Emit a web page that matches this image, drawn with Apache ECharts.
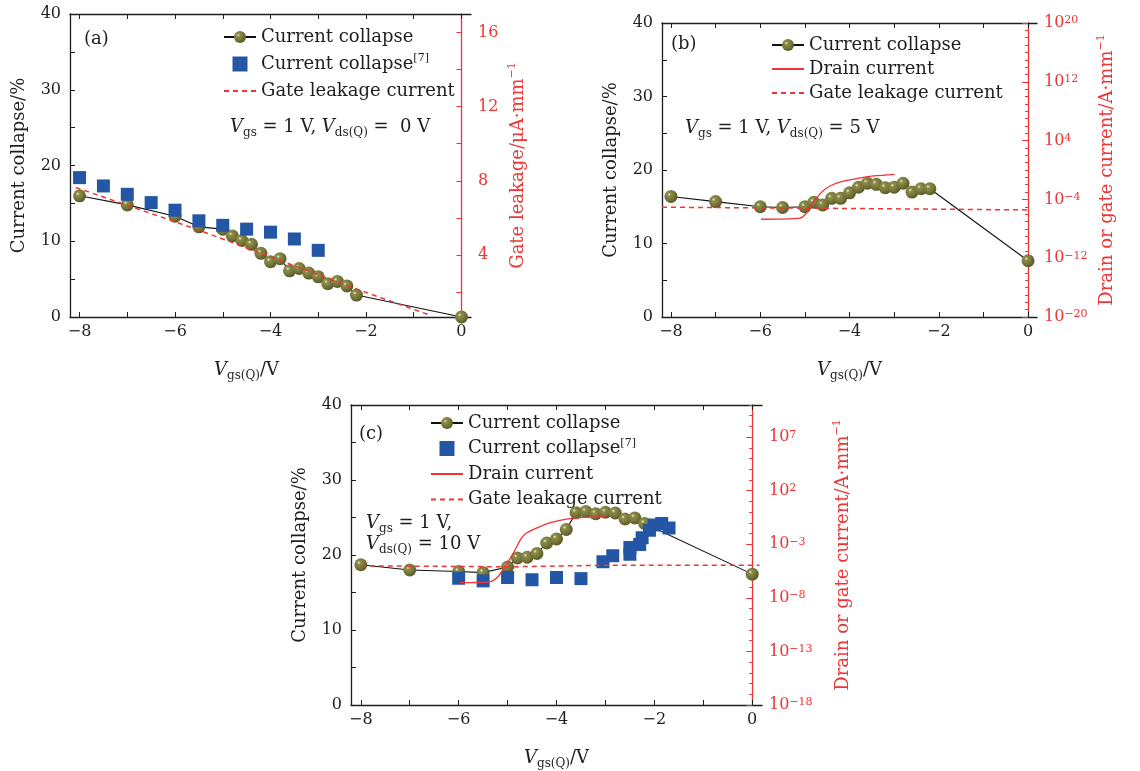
<!DOCTYPE html>
<html>
<head>
<meta charset="utf-8">
<script src="https://cdn.jsdelivr.net/npm/echarts@6/dist/echarts.min.js"></script>
<style>
  html, body { margin: 0; padding: 0; background: #fff; }
  #chart { width: 1140px; height: 771px; }
</style>
</head>
<body>
<div id="chart"></div>
<script>
// ---------- data ----------
// (a) Vds(Q) = 0 V
const aCcX = [-8, -7, -6, -5.5, -5, -4.8, -4.6, -4.4, -4.2, -4, -3.8, -3.6, -3.4, -3.2, -3, -2.8, -2.6, -2.4, -2.2, 0];
const aCcY = [16.0, 14.8, 13.3, 11.9, 11.6, 10.7, 10.1, 9.6, 8.4, 7.3, 7.7, 6.1, 6.4, 5.8, 5.3, 4.4, 4.7, 4.1, 2.9, 0.0];
const aRefX = [-8, -7.5, -7, -6.5, -6, -5.5, -5, -4.5, -4, -3.5, -3];
const aRefY = [18.4, 17.3, 16.2, 15.1, 14.1, 12.7, 12.1, 11.6, 11.2, 10.3, 8.8];
const aGateX = [-8.08, -5.5, -4.0, -2.34, -0.67];
const aGateY = [7.64, 5.34, 3.9, 2.29, 0.76];           // µA/mm, right axis

// (b) Vds(Q) = 5 V
const bCcX = [-8, -7, -6, -5.5, -5, -4.8, -4.6, -4.4, -4.2, -4, -3.8, -3.6, -3.4, -3.2, -3, -2.8, -2.6, -2.4, -2.2, 0];
const bCcY = [16.4, 15.7, 15.0, 14.9, 15.0, 15.6, 15.25, 16.15, 16.15, 16.9, 17.65, 18.2, 18.05, 17.6, 17.65, 18.2, 17.0, 17.45, 17.45, 7.65];
const bDrainX = [-5.98, -5.11, -4.97, -4.83, -4.68, -4.57, -4.39, -4.18, -3.82, -3.46, -2.99];
const bDrainY = [2.0e-7, 2.8e-7, 1.3e-6, 3.0e-5, 4.1e-4, 1.9e-3, 9.1e-3, 2.6e-2, 7.4e-2, 0.155, 0.26];
const bGateX = [-8.2, -4, 0];
const bGateY = [8.7e-6, 5.8e-6, 3.7e-6];

// (c) Vds(Q) = 10 V
const cCcX = [-8, -7, -6, -5.5, -5, -4.8, -4.6, -4.4, -4.2, -4, -3.8, -3.6, -3.4, -3.2, -3, -2.8, -2.6, -2.4, -2.2, 0];
const cCcY = [18.7, 18.0, 17.8, 17.65, 18.4, 19.6, 19.7, 20.2, 21.6, 22.15, 23.4, 25.65, 25.8, 25.5, 25.7, 25.6, 24.8, 24.95, 24.2, 17.45];
const cRefX = [-6, -5.5, -5, -4.5, -4, -3.5, -3.05, -2.85, -2.5, -2.5, -2.3, -2.25, -2.1, -2.0, -1.85, -1.7];
const cRefY = [16.9, 16.55, 17.0, 16.7, 17.0, 16.85, 19.1, 19.9, 20.1, 21.0, 21.4, 22.3, 23.3, 24.0, 24.2, 23.6];
const cDrainX = [-5.98, -5.37, -5.2, -5.07, -4.9, -4.72, -4.63, -4.41, -4.14, -3.8, -3.46, -3.0];
const cDrainY = [2.6e-7, 3.2e-7, 8.9e-7, 7.1e-6, 1.1e-4, 3.5e-3, 1.0e-2, 3.2e-2, 9.8e-2, 0.22, 0.32, 0.38];
const cGateX = [-8, -5, -3, 0.15];
const cGateY = [9.8e-6, 7.9e-6, 1.1e-5, 1.1e-5];

// ticks / labels
const xTicks = [-8, -7, -6, -5, -4, -3, -2, -1, 0];
const xLabels = [-8, -6, -4, -2, 0];
const ccTicks = [0, 5, 10, 15, 20, 25, 30, 35, 40];
const ccLabels = [0, 10, 20, 30, 40];
const aLeakTicks = [2, 4, 6, 8, 10, 12, 14, 16];
const aLeakLabels = [4, 8, 12, 16];
const bCurLabels = [1e-20, 1e-12, 1e-4, 1e4, 1e12, 1e20];
const cCurLabels = [1e-18, 1e-13, 1e-8, 1e-3, 1e2, 1e7];

// ---------- styling helpers ----------
const FONT = 'DejaVu Serif';
const INK = '#1e1e1e';
const RED = '#ee3434';
const BALL = {
  type: 'radial', x: 0.36, y: 0.34, r: 0.72,
  colorStops: [
    { offset: 0, color: '#f2f2dc' },
    { offset: 0.18, color: '#8e8e4a' },
    { offset: 0.6, color: '#74743a' },
    { offset: 1, color: '#545420' }
  ]
};
const BLUE = '#2456a6';

const zip = (xs, ys) => xs.map((x, i) => [x, ys[i]]);
const minus = v => (v < 0 ? '\u2212' + Math.abs(v) : String(v));
function decades(lo, hi) {
  const out = [];
  for (let e = lo; e <= hi; e++) out.push(Math.pow(10, e));
  return out;
}
const powLabel = v => {
  const e = Math.round(Math.log10(v));
  return '10{sup|' + minus(e) + '}';
};

const subRich = {
  i: { fontFamily: FONT, fontSize: 18, fontStyle: 'italic', color: INK },
  sub: { fontFamily: FONT, fontSize: 12, verticalAlign: 'bottom', lineHeight: 14, color: INK }
};

const grids = [
  { left: 70, top: 14, width: 401, height: 303 },
  { left: 662, top: 23, width: 375, height: 294 },
  { left: 351, top: 405, width: 411, height: 311 }
];

function bottomX(gi, namePad) {
  return {
    type: 'value', gridIndex: gi, min: -8.2, max: 0.2, position: 'bottom',
    name: '{i|V}{sub|gs(Q)}/V', nameLocation: 'middle', nameGap: 41,
    nameTextStyle: { fontFamily: FONT, fontSize: 18, color: INK, lineHeight: 24, padding: namePad, rich: subRich },
    axisLine: { onZero: false, lineStyle: { color: INK, width: 1.3 } },
    axisTick: { inside: true, length: 5, customValues: xTicks, lineStyle: { color: INK } },
    axisLabel: { customValues: xLabels, formatter: minus, fontFamily: FONT, fontSize: 16, color: INK, margin: 7 },
    splitLine: { show: false }
  };
}
function topX(gi) {
  return {
    type: 'value', gridIndex: gi, min: -8.2, max: 0.2, position: 'top',
    axisLine: { onZero: false, lineStyle: { color: INK, width: 1.3 } },
    axisTick: { inside: true, length: 5, customValues: xTicks, lineStyle: { color: INK } },
    axisLabel: { show: false },
    splitLine: { show: false }
  };
}
function leftY(gi) {
  return {
    type: 'value', gridIndex: gi, min: 0, max: 40, position: 'left',
    name: 'Current collapse/%', nameLocation: 'middle', nameGap: 42,
    nameTextStyle: { fontFamily: FONT, fontSize: 18, color: INK },
    axisLine: { show: true, onZero: false, lineStyle: { color: INK, width: 1.3 } },
    axisTick: { inside: true, length: 5, customValues: ccTicks, lineStyle: { color: INK } },
    axisLabel: { customValues: ccLabels, fontFamily: FONT, fontSize: 16, color: INK, margin: 9 },
    splitLine: { show: false }
  };
}
const curName = 'Drain or gate current/A\u00b7mm{sup|\u22121}';
const redNameStyle = {
  fontFamily: FONT, fontSize: 18, color: RED, lineHeight: 22,
  rich: { sup: { fontFamily: FONT, fontSize: 11, color: RED, verticalAlign: 'top', lineHeight: 12 } }
};
function logY(gi, min, max, labels, lo, hi, gap) {
  return [{
    type: 'log', logBase: 10, gridIndex: gi, min: min, max: max, position: 'right',
    name: curName, nameLocation: 'middle', nameGap: gap, nameTextStyle: redNameStyle,
    axisLine: { show: true, lineStyle: { color: RED, width: 1.3 } },
    axisTick: { inside: true, length: 6, customValues: labels, lineStyle: { color: RED } },
    axisLabel: {
      customValues: labels, formatter: powLabel, fontFamily: FONT, fontSize: 16, color: RED, margin: 7,
      rich: { sup: { fontFamily: FONT, fontSize: 11, color: RED, verticalAlign: 'top', lineHeight: 10 } }
    },
    splitLine: { show: false }
  }, {
    type: 'log', logBase: 10, gridIndex: gi, min: min, max: max, position: 'right',
    axisLine: { show: false },
    axisTick: { inside: true, length: 3, customValues: decades(lo, hi), lineStyle: { color: RED } },
    axisLabel: { show: false },
    splitLine: { show: false }
  }];
}

function ccSeries(xi, yi, xs, ys) {
  return {
    type: 'line', name: 'Current collapse', xAxisIndex: xi, yAxisIndex: yi,
    data: zip(xs, ys), symbol: 'circle', symbolSize: 13, z: 3,
    lineStyle: { color: '#111', width: 1.1 }, itemStyle: { color: BALL }
  };
}
function refSeries(xi, yi, xs, ys) {
  return {
    type: 'scatter', name: 'Current collapse[7]', xAxisIndex: xi, yAxisIndex: yi,
    data: zip(xs, ys), symbol: 'rect', symbolSize: 13, z: 3.5,
    itemStyle: { color: BLUE, opacity: 1 }
  };
}
function gateSeries(xi, yi, xs, ys) {
  return {
    type: 'line', name: 'Gate leakage current', xAxisIndex: xi, yAxisIndex: yi,
    data: zip(xs, ys), symbol: 'none', z: 4,
    lineStyle: { color: RED, width: 1.5, type: [5, 4] }, itemStyle: { color: RED, opacity: 0 }
  };
}
function drainSeries(xi, yi, xs, ys) {
  return {
    type: 'line', name: 'Drain current', xAxisIndex: xi, yAxisIndex: yi,
    data: zip(xs, ys), symbol: 'none', z: 4, smooth: 0.3,
    lineStyle: { color: RED, width: 1.3 }, itemStyle: { color: RED, opacity: 0 }
  };
}

const legendText = {
  fontFamily: FONT, fontSize: 18, color: INK, lineHeight: 22,
  rich: { sup: { fontFamily: FONT, fontSize: 11, color: INK, verticalAlign: 'top', lineHeight: 12 } }
};
function legend(left, top, gap, names) {
  return {
    left: left, top: top, orient: 'vertical', itemGap: gap, itemWidth: 32, itemHeight: 15,
    selectedMode: false, symbolKeepAspect: true, textStyle: legendText,
    data: names.map(n => (n === 'Current collapse[7]'
      ? { name: n, icon: 'path://M0,0H10V10H0Z', itemStyle: { color: BLUE, opacity: 1 } }
      : n)),
    formatter: n => (n === 'Current collapse[7]' ? 'Current collapse{sup|[7]}' : n)
  };
}

const noteFont = { fontFamily: FONT, fontSize: 18, fill: INK, lineHeight: 24 };
const noteRich = {
  i: { fontFamily: FONT, fontSize: 18, fontStyle: 'italic', fill: INK },
  sub: { fontFamily: FONT, fontSize: 12, verticalAlign: 'bottom', lineHeight: 14, fill: INK }
};
function note(x, y, text) {
  return { type: 'text', left: x, top: y, style: Object.assign({ text: text, rich: noteRich }, noteFont) };
}

const chart = echarts.init(document.getElementById('chart'));
chart.setOption({
  animation: false,
  backgroundColor: '#fff',
  grid: grids,
  xAxis: [
    bottomX(0, [0, 48, 0, 0]), topX(0),
    bottomX(1, [0, 0, 0, 0]), topX(1),
    bottomX(2, [0, 0, 0, 0]), topX(2)
  ],
  yAxis: [
    leftY(0),
    {
      type: 'value', gridIndex: 0, min: 0.65, max: 17, position: 'right',
      name: 'Gate leakage/\u03bcA\u00b7mm{sup|\u22121}', nameLocation: 'middle', nameGap: 36,
      nameTextStyle: redNameStyle,
      axisLine: { show: true, lineStyle: { color: RED, width: 1.3 } },
      axisTick: { inside: true, length: 5, customValues: aLeakTicks, lineStyle: { color: RED } },
      axisLabel: { customValues: aLeakLabels, fontFamily: FONT, fontSize: 16, color: RED, margin: 7 },
      splitLine: { show: false }
    },
    leftY(1),
    ...logY(1, 1e-20, 1e20, bCurLabels, -20, 20, 59),
    leftY(2),
    ...logY(2, 1e-18, 1e10, cCurLabels, -18, 10, 70)
  ],
  legend: [
    legend(218, 21, 5, ['Current collapse', 'Current collapse[7]', 'Gate leakage current']),
    legend(766, 29, 2, ['Current collapse', 'Drain current', 'Gate leakage current']),
    legend(425, 407, 3.5, ['Current collapse', 'Current collapse[7]', 'Drain current', 'Gate leakage current'])
  ],
  graphic: [
    note(84, 27, '(a)'),
    note(230, 115, '{i|V}{sub|gs} = 1 V, {i|V}{sub|ds(Q)} =  0 V'),
    note(671, 32, '(b)'),
    note(685, 116, '{i|V}{sub|gs} = 1 V, {i|V}{sub|ds(Q)} = 5 V'),
    note(359, 422, '(c)'),
    note(366, 511, '{i|V}{sub|gs} = 1 V,'),
    note(366, 532, '{i|V}{sub|ds(Q)} = 10 V')
  ],
  series: [
    gateSeries(0, 1, aGateX, aGateY),
    ccSeries(0, 0, aCcX, aCcY),
    refSeries(0, 0, aRefX, aRefY),

    drainSeries(2, 3, bDrainX, bDrainY),
    gateSeries(2, 3, bGateX, bGateY),
    ccSeries(2, 2, bCcX, bCcY),

    drainSeries(4, 6, cDrainX, cDrainY),
    gateSeries(4, 6, cGateX, cGateY),
    ccSeries(4, 5, cCcX, cCcY),
    refSeries(4, 5, cRefX, cRefY)
  ]
});
</script>
</body>
</html>
